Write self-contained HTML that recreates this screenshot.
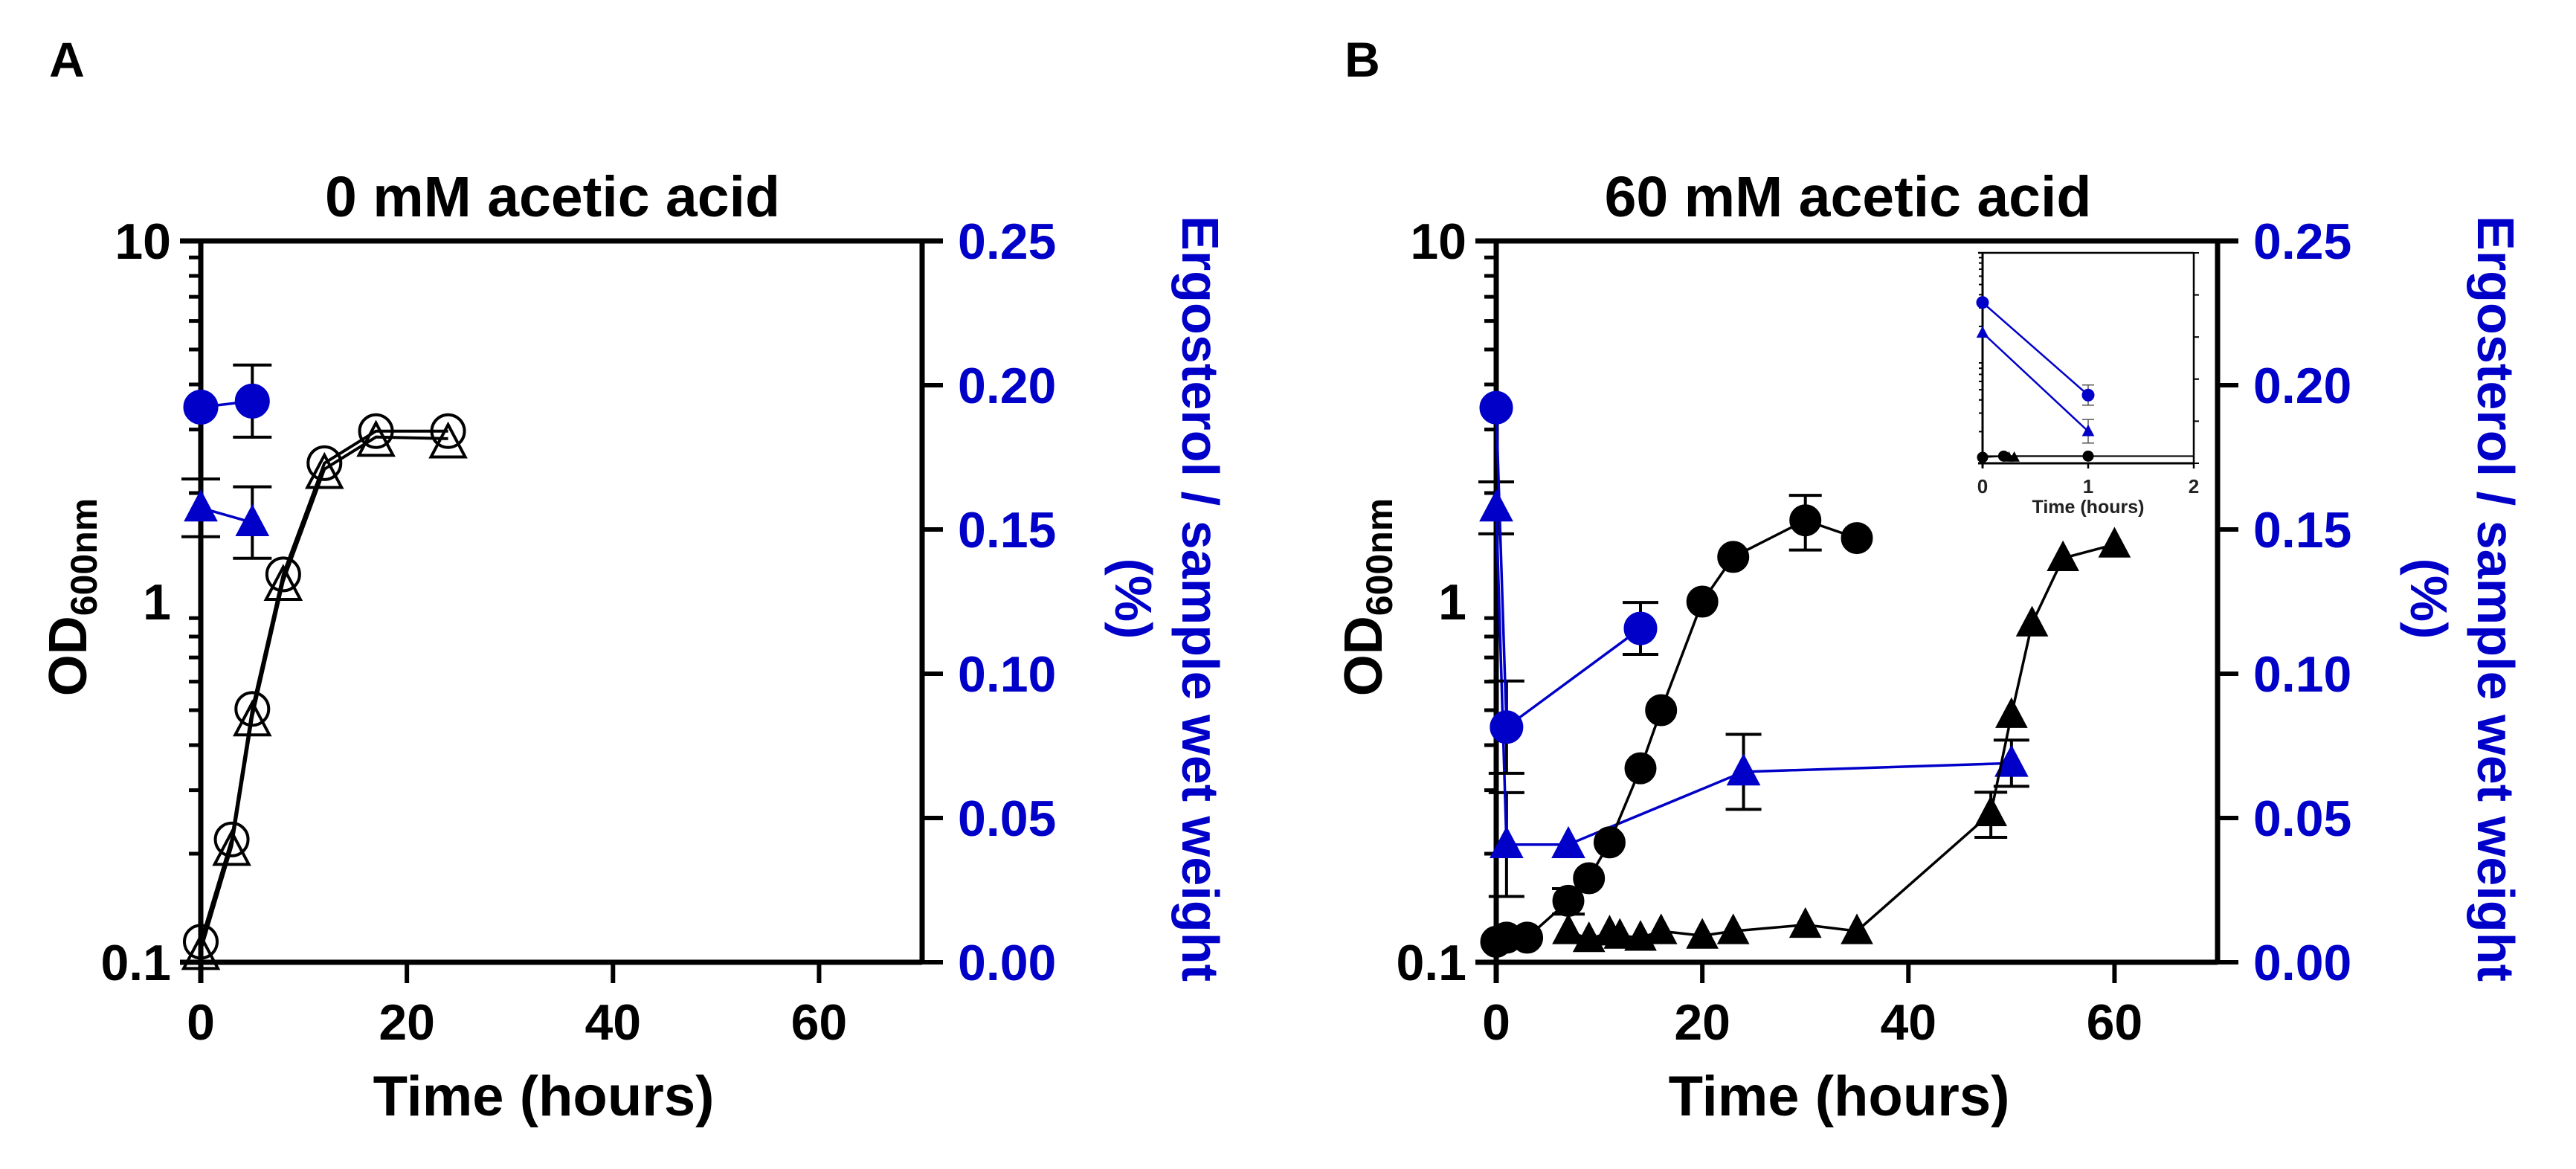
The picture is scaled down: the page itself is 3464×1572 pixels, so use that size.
<!DOCTYPE html>
<html><head><meta charset="utf-8">
<style>
html,body{margin:0;padding:0;background:#fff;}
svg{display:block;font-family:"Liberation Sans",Arial,sans-serif;font-weight:bold;}
</style></head>
<body>
<svg id="fig" width="3464" height="1572" viewBox="0 0 3464 1572" xmlns="http://www.w3.org/2000/svg">
<text x="90" y="103" font-size="66" text-anchor="middle">A</text>
<text x="1832" y="103" font-size="66" text-anchor="middle">B</text>
</svg>
<script>
// ---------- Data: Panel A (0 mM acetic acid) ----------
const aCircT = [0, 3, 5, 8, 12, 17, 24];
const aCircOD = [0.114, 0.219, 0.504, 1.19, 2.42, 2.97, 2.97];
const aTriT = [0, 3, 5, 8, 12, 17, 24];
const aTriOD = [0.108, 0.21, 0.48, 1.14, 2.33, 2.86, 2.83];
const aErgCircT = [0, 5];
const aErgCirc = [0.1924, 0.1945];
const aErgCircErr = [0, 0.0125];
const aErgTriT = [0, 5];
const aErgTri = [0.1575, 0.1524];
const aErgTriErr = [0.010, 0.0124];

// ---------- Data: Panel B (60 mM acetic acid) ----------
const bCircT = [0, 1, 3, 7, 9, 11, 14, 16, 20, 23, 30, 35];
const bCircOD = [0.114, 0.117, 0.117, 0.148, 0.171, 0.215, 0.345, 0.50, 1.0, 1.33, 1.68, 1.5];
const bCircErr = [0, 0, 0, 0.012, 0, 0, 0, 0, 0, 0, 0.29, 0];
const bTriT = [7, 9, 11, 12, 14, 16, 20, 23, 30, 35, 48, 50, 52, 55, 60];
const bTriOD = [0.122, 0.116, 0.121, 0.1185, 0.117, 0.122, 0.1185, 0.122, 0.127, 0.122, 0.259, 0.485, 0.87, 1.32, 1.44];
const bTriErr = [0, 0, 0, 0, 0, 0, 0, 0, 0, 0, 0.037, 0, 0, 0, 0];
const bErgCircT = [0, 1, 14];
const bErgCirc = [0.1922, 0.0815, 0.1157];
const bErgCircErr = [0, 0.016, 0.009];
const bErgTriT = [0, 1, 7, 24, 50];
const bErgTri = [0.1575, 0.0408, 0.0408, 0.066, 0.069];
const bErgTriErr = [0.009, 0.018, 0, 0.013, 0.008];

// ---------- Inset data (Panel B, first 2 hours) ----------
const inErgCircT = [0, 1];
const inErgCirc = [0.191, 0.081];
const inErgTriT = [0, 1];
const inErgTri = [0.155, 0.038];
const inCircT = [0, 0.2, 1];
const inCircOD = [0.114, 0.117, 0.117];
const inTriT = [0.25, 0.3];
const inTriOD = [0.114, 0.114];

const xTicks = [0, 20, 40, 60];
const rightTicks = ['0.00', '0.05', '0.10', '0.15', '0.20', '0.25'];
const leftTicks = ['0.1', '1', '10'];

const NS = 'http://www.w3.org/2000/svg';
const svg = document.getElementById('fig');
const BLUE = '#0000c8';

function el(tag, attrs, parent) {
  const e = document.createElementNS(NS, tag);
  for (const k in attrs) e.setAttribute(k, attrs[k]);
  (parent || svg).appendChild(e);
  return e;
}

function circle(g, x, y, r, fill, stroke, sw) {
  return el('circle', {cx: x, cy: y, r: r, fill: fill, stroke: stroke, 'stroke-width': sw}, g);
}
function tri(g, x, y, s, fill, stroke, sw) {
  const h = s * 0.9;
  return el('polygon', {points: `${x},${y - h * 0.6} ${x - s / 2},${y + h * 0.45} ${x + s / 2},${y + h * 0.45}`, fill: fill, stroke: stroke, 'stroke-width': sw}, g);
}
function polyline(g, pts, color, w) {
  return el('polyline', {points: pts.map(p => p.join(',')).join(' '), fill: 'none', stroke: color, 'stroke-width': w, 'stroke-linejoin': 'round'}, g);
}
function errbar(g, x, y1, y2, color, cw, w) {
  el('line', {x1: x, y1: y1, x2: x, y2: y2, stroke: color, 'stroke-width': w}, g);
  el('line', {x1: x - cw, y1: y1, x2: x + cw, y2: y1, stroke: color, 'stroke-width': w}, g);
  el('line', {x1: x - cw, y1: y2, x2: x + cw, y2: y2, stroke: color, 'stroke-width': w}, g);
}

function panel(id, ox, title) {
  const L = 270 + ox, R = 1240 + ox, T = 324, B = 1294;
  const xs = t => L + (t / 70) * (R - L);
  const yl = v => T + (1 - Math.log10(v)) / 2 * (B - T);
  const yr = v => B - (v / 0.25) * (B - T);
  const g = el('g', {});
  
  

  const tt = el('text', {x: (L + R) / 2 - 12, y: 291, 'font-size': 77, 'text-anchor': 'middle'}, g);
  
  
  tt.textContent = title;

  const ax = el('g', {stroke: '#000', 'stroke-width': 7, fill: 'none'}, g);
  
  
  el('line', {x1: L - 28, y1: T, x2: R + 28, y2: T}, ax);
  el('line', {x1: L - 28, y1: B, x2: R, y2: B}, ax);
  el('line', {x1: L, y1: T, x2: L, y2: B + 28}, ax);
  el('line', {x1: R, y1: T, x2: R, y2: B}, ax);

  xTicks.forEach(t => {
    el('line', {x1: xs(t), y1: B, x2: xs(t), y2: B + 28, stroke: '#000', 'stroke-width': 6}, g);
    const tx = el('text', {x: xs(t), y: 1398, 'font-size': 68, 'text-anchor': 'middle'}, g);
    
    
    tx.textContent = t;
  });
  leftTicks.forEach(s => {
    const v = parseFloat(s);
    const ty = el('text', {x: L - 40, y: yl(v) + 24, 'font-size': 68, 'text-anchor': 'end'}, g);
    
    
    ty.textContent = s;
  });
  [0.1, 1].forEach(dec => {
    for (let m = 2; m <= 9; m++) {
      const y = yl(dec * m);
      el('line', {x1: L - 16, y1: y, x2: L, y2: y, stroke: '#000', 'stroke-width': 5}, g);
    }
  });
  rightTicks.forEach(s => {
    const v = parseFloat(s);
    el('line', {x1: R, y1: yr(v), x2: R + 28, y2: yr(v), stroke: '#000', 'stroke-width': 6}, g);
    const ty = el('text', {x: R + 48, y: yr(v) + 24, 'font-size': 68, fill: BLUE}, g);
    
    
    ty.textContent = s;
  });

  const xt = el('text', {x: L + 461, y: 1500, 'font-size': 76, 'text-anchor': 'middle'}, g);
  
  
  xt.textContent = 'Time (hours)';

  const yt = el('text', {transform: `translate(${ox + 116},803) rotate(-90)`, 'font-size': 72, 'text-anchor': 'middle'}, g);
  
  
  const s1 = el('tspan', {}, yt); s1.textContent = 'OD';
  const s2 = el('tspan', {'font-size': 50, dy: 14}, yt); s2.textContent = '600nm';

  const rt = el('text', {transform: `translate(${ox + 1590},805) rotate(90)`, 'font-size': 70, 'text-anchor': 'middle', fill: BLUE, textLength: 1030, lengthAdjust: 'spacingAndGlyphs'}, g);
  
  
  rt.textContent = 'Ergosterol / sample wet weight';
  const rt2 = el('text', {transform: `translate(${ox + 1500},805) rotate(90)`, 'font-size': 70, 'text-anchor': 'middle', fill: BLUE}, g);
  
  
  rt2.textContent = '(%)';

  return {g, xs, yl, yr, L, R, T, B};
}

// ----- Panel A -----
const A = panel('panel-a', 0, '0 mM acetic acid');
{
  const s = el('g', {}, A.g);
  
  
  polyline(s, aTriT.map((t, i) => [A.xs(t), A.yl(aTriOD[i])]), '#000', 4);
  aTriT.forEach((t, i) => tri(s, A.xs(t), A.yl(aTriOD[i]) + 6, 46, 'none', '#000', 4));
  const c = el('g', {}, A.g);
  
  
  polyline(c, aCircT.map((t, i) => [A.xs(t), A.yl(aCircOD[i])]), '#000', 4);
  aCircT.forEach((t, i) => circle(c, A.xs(t), A.yl(aCircOD[i]), 22, 'none', '#000', 4));

  const bt = el('g', {}, A.g);
  
  
  aErgTriT.forEach((t, i) => { if (aErgTriErr[i]) errbar(bt, A.xs(t), A.yr(aErgTri[i] + aErgTriErr[i]), A.yr(aErgTri[i] - aErgTriErr[i]), '#000', 26, 4); });
  polyline(bt, aErgTriT.map((t, i) => [A.xs(t), A.yr(aErgTri[i])]), BLUE, 3.5);
  aErgTriT.forEach((t, i) => tri(bt, A.xs(t), A.yr(aErgTri[i]), 44, BLUE, BLUE, 1));
  const bc = el('g', {}, A.g);
  
  
  aErgCircT.forEach((t, i) => { if (aErgCircErr[i]) errbar(bc, A.xs(t), A.yr(aErgCirc[i] + aErgCircErr[i]), A.yr(aErgCirc[i] - aErgCircErr[i]), '#000', 26, 4); });
  polyline(bc, aErgCircT.map((t, i) => [A.xs(t), A.yr(aErgCirc[i])]), BLUE, 3.5);
  aErgCircT.forEach((t, i) => circle(bc, A.xs(t), A.yr(aErgCirc[i]), 23, BLUE, BLUE, 1));
}

// ----- Panel B -----
const Bp = panel('panel-b', 1742, '60 mM acetic acid');
{
  const P = Bp;
  const bt = el('g', {}, P.g);
  
  
  bErgTriT.forEach((t, i) => { if (bErgTriErr[i]) errbar(bt, P.xs(t), P.yr(bErgTri[i] + bErgTriErr[i]), P.yr(bErgTri[i] - bErgTriErr[i]), '#000', 24, 4); });
  polyline(bt, bErgTriT.map((t, i) => [P.xs(t), P.yr(bErgTri[i])]), BLUE, 3.5);
  bErgTriT.forEach((t, i) => tri(bt, P.xs(t), P.yr(bErgTri[i]), 44, BLUE, BLUE, 1));

  const bc = el('g', {}, P.g);
  
  
  bErgCircT.forEach((t, i) => { if (bErgCircErr[i]) errbar(bc, P.xs(t), P.yr(bErgCirc[i] + bErgCircErr[i]), P.yr(bErgCirc[i] - bErgCircErr[i]), '#000', 24, 4); });
  polyline(bc, bErgCircT.map((t, i) => [P.xs(t), P.yr(bErgCirc[i])]), BLUE, 3.5);
  bErgCircT.forEach((t, i) => circle(bc, P.xs(t), P.yr(bErgCirc[i]), 22, BLUE, BLUE, 1));

  const kt = el('g', {}, P.g);
  
  
  bTriT.forEach((t, i) => { if (bTriErr[i]) errbar(kt, P.xs(t), P.yl(bTriOD[i] + bTriErr[i]), P.yl(bTriOD[i] - bTriErr[i]), '#000', 22, 4); });
  polyline(kt, bTriT.map((t, i) => [P.xs(t), P.yl(bTriOD[i])]), '#000', 3.5);
  bTriT.forEach((t, i) => tri(kt, P.xs(t), P.yl(bTriOD[i]), 42, '#000', '#000', 1));

  const kc = el('g', {}, P.g);
  
  
  bCircT.forEach((t, i) => { if (bCircErr[i]) errbar(kc, P.xs(t), P.yl(bCircOD[i] + bCircErr[i]), P.yl(bCircOD[i] - bCircErr[i]), '#000', 22, 4); });
  polyline(kc, bCircT.map((t, i) => [P.xs(t), P.yl(bCircOD[i])]), '#000', 3.5);
  bCircT.forEach((t, i) => circle(kc, P.xs(t), P.yl(bCircOD[i]), 21, '#000', '#000', 1));

  // ----- Inset -----
  const IL = 2666, IR = 2950, IT = 340, IB = 623;
  const ixs = t => IL + (t / 2) * (IR - IL);
  const iyl = v => IT + (1 - Math.log10(v)) / 2 * (IB - IT);
  const iyr = v => IB - (v / 0.25) * (IB - IT);
  const ig = el('g', {}, P.g);
  
  
  el('rect', {x: IL, y: IT, width: IR - IL, height: IB - IT, fill: '#fff', stroke: 'none'}, ig);
  el('line', {x1: IL - 6, y1: IT, x2: IR, y2: IT, stroke: '#000', 'stroke-width': 2.5}, ig);
  el('line', {x1: IL - 6, y1: IB, x2: IR, y2: IB, stroke: '#000', 'stroke-width': 3}, ig);
  el('line', {x1: IL, y1: IT, x2: IL, y2: IB + 6, stroke: '#000', 'stroke-width': 3}, ig);
  el('line', {x1: IR, y1: IT, x2: IR, y2: IB, stroke: '#000', 'stroke-width': 2.5}, ig);
  [0.1, 1].forEach(dec => { for (let m = 2; m <= 9; m++) el('line', {x1: IL - 5, y1: iyl(dec * m), x2: IL, y2: iyl(dec * m), stroke: '#000', 'stroke-width': 2}, ig); });
  rightTicks.forEach(s => el('line', {x1: IR, y1: iyr(parseFloat(s)), x2: IR + 7, y2: iyr(parseFloat(s)), stroke: '#000', 'stroke-width': 2}, ig));
  [0, 1, 2].forEach(t => {
    el('line', {x1: ixs(t), y1: IB, x2: ixs(t), y2: IB + 7, stroke: '#000', 'stroke-width': 2.5}, ig);
    const lt = el('text', {x: ixs(t), y: IB + 40, 'font-size': 26, 'text-anchor': 'middle', fill: '#222'}, ig);
    
    
    lt.textContent = t;
  });
  const it = el('text', {x: ixs(1), y: IB + 67, 'font-size': 25, 'text-anchor': 'middle', fill: '#222'}, ig);
  
  
  it.textContent = 'Time (hours)';
  el('line', {x1: IL, y1: iyl(0.117), x2: IR, y2: iyl(0.117), stroke: '#000', 'stroke-width': 2}, ig);
  polyline(ig, inCircT.map((t, i) => [ixs(t), iyl(inCircOD[i])]), '#000', 2);
  inCircT.forEach((t, i) => circle(ig, ixs(t), iyl(inCircOD[i]), 7, '#000', '#000', 1));
  inTriT.forEach((t, i) => tri(ig, ixs(t), iyl(inTriOD[i]), 13, '#000', '#000', 1));
  errbar(ig, ixs(1), iyr(inErgCirc[1] + 0.012), iyr(inErgCirc[1] - 0.012), '#555', 8, 1.5);
  errbar(ig, ixs(1), iyr(inErgTri[1] + 0.014), iyr(inErgTri[1] - 0.014), '#555', 8, 1.5);
  polyline(ig, inErgCircT.map((t, i) => [ixs(t), iyr(inErgCirc[i])]), BLUE, 2.5);
  inErgCircT.forEach((t, i) => circle(ig, ixs(t), iyr(inErgCirc[i]), 8, BLUE, BLUE, 1));
  polyline(ig, inErgTriT.map((t, i) => [ixs(t), iyr(inErgTri[i])]), BLUE, 2.5);
  inErgTriT.forEach((t, i) => tri(ig, ixs(t), iyr(inErgTri[i]), 15, BLUE, BLUE, 1));
}
</script>
</body></html>
